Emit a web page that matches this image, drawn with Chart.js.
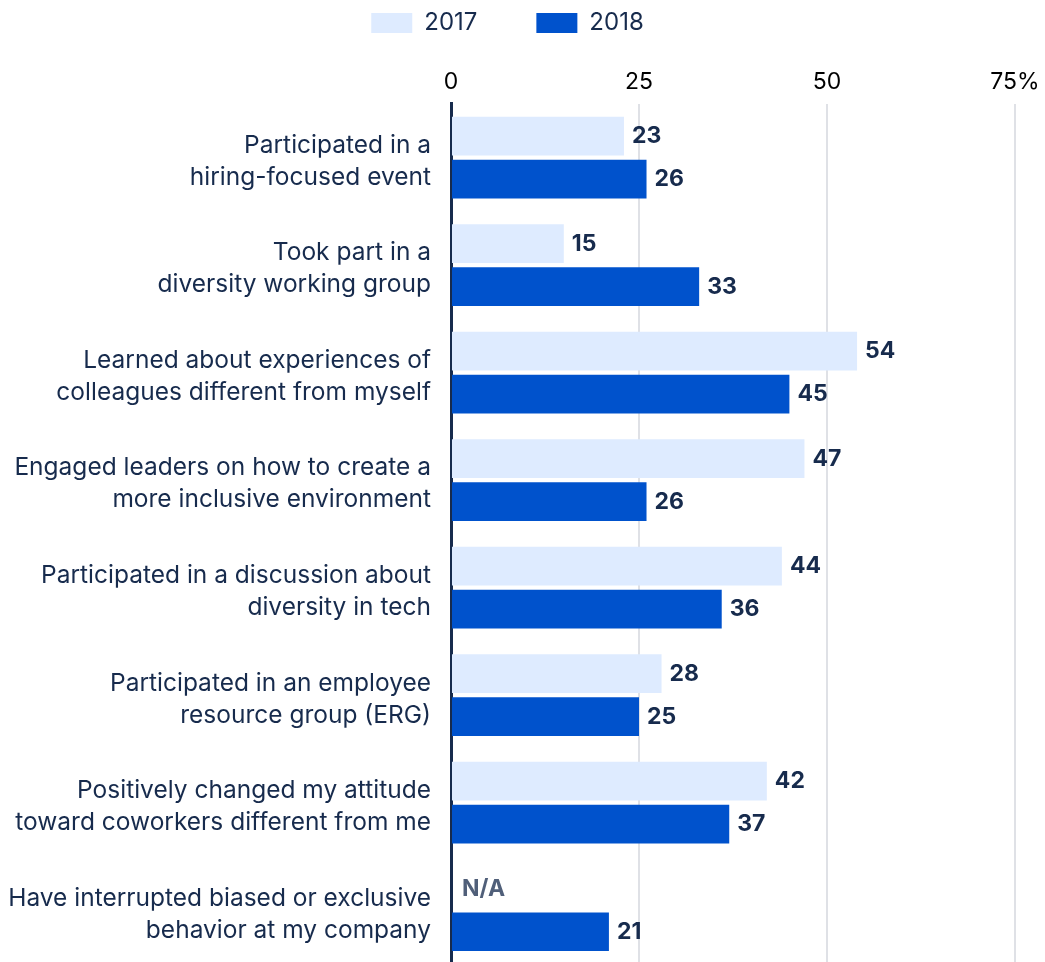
<!DOCTYPE html>
<html>
<head>
<meta charset="utf-8">
<script src="https://cdn.jsdelivr.net/npm/chart.js@4"></script>
<style>
  html, body { margin: 0; padding: 0; background: #fff; overflow: hidden; }
  canvas { display: block; }
</style>
</head>
<body>
<canvas id="chart" width="1045" height="964"></canvas>
<script>
const categories = [
    ['Participated in a', 'hiring-focused event'],
    ['Took part in a', 'diversity working group'],
    ['Learned about experiences of', 'colleagues different from myself'],
    ['Engaged leaders on how to create a', 'more inclusive environment'],
    ['Participated in a discussion about', 'diversity in tech'],
    ['Participated in an employee', 'resource group (ERG)'],
    ['Positively changed my attitude', 'toward coworkers different from me'],
    ['Have interrupted biased or exclusive', 'behavior at my company']
];
const values2017 = [23, 15, 54, 47, 44, 28, 42, null];
const values2018 = [26, 33, 45, 26, 36, 25, 37, 21];
const xTicks = [0, 25, 50, 75];

const NAVY = '#172B4D';
const FONT = 'Inter, "Noto Sans", sans-serif';

// value labels at the end of each bar, "N/A" where a year has no data
const valueLabels = {
    id: 'valueLabels',
    afterDatasetsDraw(chart) {
        const ctx = chart.ctx;
        const x0 = chart.scales.x.getPixelForValue(0);
        ctx.save();
        ctx.textBaseline = 'middle';
        ctx.textAlign = 'left';
        ctx.font = 'bold 23px ' + FONT;
        chart.data.datasets.forEach((ds, i) => {
            chart.getDatasetMeta(i).data.forEach((bar, j) => {
                const v = ds.data[j];
                if (v == null) {
                    ctx.fillStyle = '#505F79';
                    ctx.fillText('N/A', x0 + 11, bar.y);
                } else {
                    ctx.fillStyle = NAVY;
                    ctx.fillText(String(v), bar.x + 8, bar.y);
                }
            });
        });
        ctx.restore();
    }
};

const chart = new Chart(document.querySelector('#chart').getContext('2d'), {
    type: 'bar',
    data: {
        labels: categories,
        datasets: [
            { label: '2017', data: values2017, backgroundColor: '#DEEBFF' },
            { label: '2018', data: values2018, backgroundColor: '#0052CC' }
        ]
    },
    options: {
        indexAxis: 'y',
        responsive: false,
        animation: false,
        categoryPercentage: 0.8,
        barPercentage: 0.9,
        layout: { padding: { top: 0, right: 30, bottom: 0, left: 0 } },
        plugins: {
            tooltip: { enabled: false },
            legend: {
                position: 'top',
                labels: {
                    boxWidth: 41,
                    boxHeight: 20,
                    padding: 11,
                    color: NAVY,
                    font: { family: FONT, size: 24 },
                    // widen the gap between the two legend items
                    generateLabels(c) {
                        const items = Chart.defaults.plugins.legend.labels.generateLabels(c);
                        items.forEach((it, k) => {
                            if (k < items.length - 1) it.text += '\u2003\u2003';
                        });
                        return items;
                    }
                }
            }
        },
        scales: {
            x: {
                position: 'top',
                min: 0,
                max: 75,
                afterBuildTicks(scale) {
                    scale.ticks = xTicks.map(v => ({ value: v }));
                },
                afterFit(scale) {
                    scale.paddingLeft = 0;
                    scale.paddingRight = 0;
                },
                // empty title used as a spacer under the legend
                title: { display: true, text: ' ', font: { size: 1 }, padding: { top: 0, bottom: 14 } },
                grid: { color: '#DFE1E6', lineWidth: 2, drawTicks: false },
                border: { display: false },
                ticks: {
                    padding: 8,
                    color: '#000',
                    font: { family: FONT, size: 23 },
                    callback: v => v === 75 ? v + '%' : v
                }
            },
            y: {
                afterFit(scale) {
                    scale.width = 451;
                    scale.paddingTop = 0;
                    scale.paddingBottom = 0;
                },
                grid: { display: false, drawTicks: false },
                border: { display: true, color: NAVY, width: 3 },
                ticks: {
                    padding: 20,
                    labelOffset: 4,
                    color: NAVY,
                    font: { family: FONT, size: 24.5, lineHeight: 1.306 }
                }
            }
        }
    },
    plugins: [valueLabels]
});
</script>
</body>
</html>
